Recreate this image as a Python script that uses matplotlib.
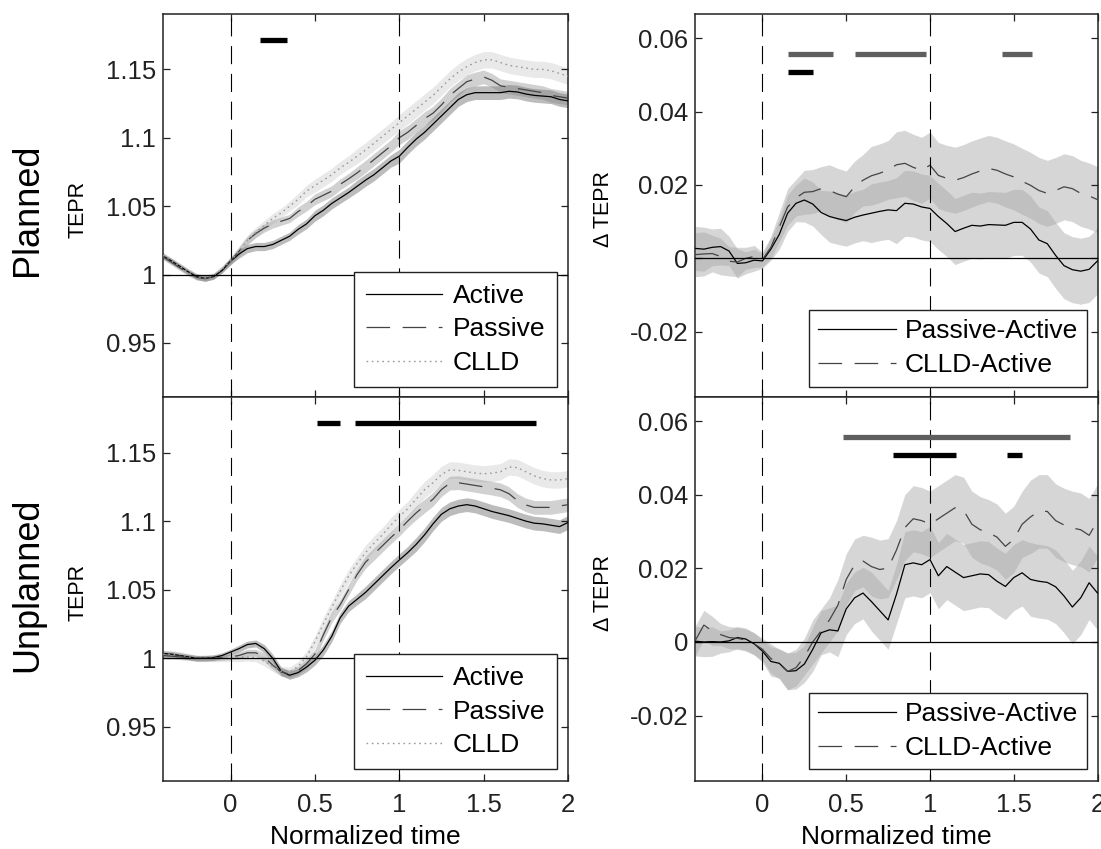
import matplotlib
matplotlib.use('Agg')
import matplotlib.pyplot as plt
import numpy as np

plt.rcParams['font.family'] = ['Liberation Sans', 'DejaVu Sans']
plt.rcParams['lines.scale_dashes'] = False

# ---------------- data ----------------
time = np.linspace(-0.4, 2.0, 49)   # normalized time grid (step 0.05)

planned_active = [1.0135, 1.010, 1.006, 1.002, 0.9985, 0.9972, 0.9985, 1.003,
                  1.0097, 1.015, 1.019, 1.0205, 1.0205, 1.022, 1.025, 1.028, 1.033,
                  1.037, 1.043, 1.047, 1.052, 1.056, 1.060, 1.0645, 1.069, 1.073,
                  1.078, 1.083, 1.0865, 1.093, 1.099, 1.104, 1.110, 1.116, 1.122,
                  1.128, 1.1315, 1.133, 1.133, 1.133, 1.133, 1.134, 1.1335, 1.132,
                  1.131, 1.1305, 1.130, 1.128, 1.127]
planned_passive = [1.013, 1.009, 1.005, 1.001, 0.998, 0.997, 0.999, 1.004,
                   1.010, 1.017, 1.025, 1.030, 1.034, 1.037, 1.039, 1.041, 1.046,
                   1.050, 1.055, 1.058, 1.061, 1.066, 1.070, 1.0743, 1.079, 1.084,
                   1.089, 1.094, 1.100, 1.104, 1.109, 1.114, 1.118, 1.124, 1.131,
                   1.136, 1.141, 1.143, 1.1445, 1.142, 1.138, 1.137, 1.136, 1.135,
                   1.134, 1.133, 1.131, 1.130, 1.129]
planned_clld = [1.014, 1.010, 1.006, 1.002, 0.9985, 0.9975, 0.999, 1.004,
                1.010, 1.017, 1.025, 1.031, 1.036, 1.041, 1.045, 1.050, 1.055,
                1.061, 1.065, 1.069, 1.073, 1.078, 1.082, 1.0865, 1.091, 1.096,
                1.101, 1.106, 1.111, 1.116, 1.121, 1.126, 1.131, 1.137, 1.143,
                1.148, 1.152, 1.155, 1.157, 1.157, 1.155, 1.153, 1.152, 1.151,
                1.150, 1.150, 1.149, 1.147, 1.145]
planned_sem = [0.002] * 8 + [0.0025, 0.003, 0.003, 0.003, 0.003, 0.003, 0.003, 0.003,
               0.0035, 0.0035, 0.004, 0.004, 0.004, 0.004, 0.004, 0.0045, 0.0045,
               0.0045, 0.0045, 0.0045, 0.005, 0.005, 0.005, 0.005, 0.005, 0.005,
               0.005, 0.005, 0.005, 0.005, 0.005, 0.005, 0.005, 0.005, 0.005,
               0.005, 0.005, 0.005, 0.005, 0.005, 0.005]

unplanned_active = [1.0035, 1.003, 1.002, 1.001, 1.000, 1.000, 1.0005, 1.002,
                    1.0045, 1.007, 1.010, 1.0108, 1.007, 1.000, 0.9905, 0.9876,
                    0.9895, 0.9935, 0.9985, 1.006, 1.016, 1.0295, 1.038, 1.043,
                    1.048, 1.054, 1.060, 1.066, 1.0716, 1.077, 1.083, 1.090, 1.098,
                    1.105, 1.109, 1.111, 1.112, 1.111, 1.109, 1.107, 1.1055, 1.104,
                    1.102, 1.100, 1.0985, 1.098, 1.097, 1.096, 1.099]
unplanned_passive = [1.002, 1.0015, 1.001, 1.0005, 1.000, 1.000, 1.000, 1.0005,
                     1.001, 1.002, 1.004, 1.004, 1.001, 0.995, 0.990, 0.9885,
                     0.991, 0.996, 1.003, 1.017, 1.030, 1.039, 1.050, 1.061,
                     1.070, 1.076, 1.082, 1.088, 1.0936, 1.100, 1.106, 1.111, 1.116,
                     1.123, 1.1277, 1.128, 1.127, 1.126, 1.125, 1.124, 1.1228, 1.120,
                     1.115, 1.1118, 1.110, 1.110, 1.110, 1.111, 1.112]
unplanned_clld = [1.003, 1.003, 1.0025, 1.001, 1.000, 1.000, 1.000, 1.000,
                  1.000, 1.0005, 1.001, 1.0005, 0.998, 0.994, 0.9905, 0.990,
                  0.994, 1.001, 1.012, 1.025, 1.037, 1.049, 1.060, 1.069,
                  1.077, 1.0838, 1.090, 1.097, 1.1033, 1.109, 1.116, 1.123, 1.128,
                  1.134, 1.1374, 1.137, 1.136, 1.135, 1.1345, 1.135, 1.136, 1.1395,
                  1.139, 1.136, 1.133, 1.131, 1.130, 1.130, 1.131]
unplanned_sem = [0.002] * 8 + [0.002, 0.0025, 0.0025, 0.0025, 0.003, 0.003, 0.003, 0.003,
                 0.003, 0.0035, 0.0035, 0.004, 0.004, 0.004, 0.004, 0.004, 0.0045,
                 0.0045, 0.0045, 0.0045, 0.0045, 0.0045, 0.005, 0.005, 0.005,
                 0.005, 0.005, 0.005, 0.005, 0.005, 0.005, 0.005, 0.005, 0.005,
                 0.005, 0.005, 0.005, 0.005, 0.005, 0.005, 0.005]

planned_pass_minus_act = [0.0027, 0.0025, 0.0030, 0.0032, 0.0020, -0.0014, -0.0012, -0.0005,
                          -0.0007, 0.0025, 0.0065, 0.0123, 0.0150, 0.0159, 0.0148, 0.0125,
                          0.0114, 0.0108, 0.0103, 0.0112, 0.0118, 0.0123, 0.0128, 0.0132,
                          0.0130, 0.0150, 0.0148, 0.0140, 0.0136, 0.0114, 0.0095, 0.0073,
                          0.0082, 0.0090, 0.0088, 0.0092, 0.0091, 0.0090, 0.0098, 0.0098,
                          0.0080, 0.0050, 0.0040, 0.0008, -0.0020, -0.0031, -0.0035,
                          -0.0030, -0.0007]
planned_clld_minus_act = [0.0010, 0.0012, 0.0013, 0.0005, -0.0008, -0.0010, 0.0000, 0.0005,
                          -0.0003, 0.0030, 0.0085, 0.0140, 0.0165, 0.0180, 0.0182, 0.0190,
                          0.0185, 0.0175, 0.0168, 0.0195, 0.0213, 0.0225, 0.0232, 0.0241,
                          0.0255, 0.0259, 0.0248, 0.0240, 0.0254, 0.0226, 0.0218, 0.0213,
                          0.0220, 0.0230, 0.0238, 0.0245, 0.0240, 0.0230, 0.0222, 0.0210,
                          0.0199, 0.0185, 0.0177, 0.0185, 0.0195, 0.0190, 0.0177, 0.0170,
                          0.0160]
planned_diff_sem = [0.006, 0.006, 0.005, 0.005, 0.004, 0.004, 0.003, 0.003,
                    0.002, 0.003, 0.004, 0.005, 0.005, 0.006, 0.006, 0.006, 0.007, 0.007,
                    0.007, 0.007, 0.007, 0.008, 0.008, 0.008, 0.009, 0.009, 0.009, 0.009,
                    0.009, 0.009, 0.009, 0.009, 0.009, 0.009, 0.009, 0.009, 0.009, 0.009,
                    0.009, 0.009, 0.009, 0.009, 0.009, 0.009, 0.009, 0.009, 0.009, 0.009,
                    0.009]

unplanned_pass_minus_act = [0.0002, 0.0000, 0.0001, 0.0000, 0.0003, 0.0012, 0.0008, -0.0005,
                            -0.0025, -0.0053, -0.0058, -0.0080, -0.0078, -0.0060, -0.0020,
                            0.0025, 0.0033, 0.0030, 0.0090, 0.0120, 0.0133, 0.0110, 0.0085,
                            0.0060, 0.0130, 0.0210, 0.0215, 0.0210, 0.0224, 0.0180, 0.0205,
                            0.0190, 0.0175, 0.0180, 0.0185, 0.0183, 0.0165, 0.0151, 0.0175,
                            0.0188, 0.0170, 0.0165, 0.0162, 0.0150, 0.0125, 0.0095, 0.0120,
                            0.0161, 0.0133]
unplanned_clld_minus_act = [0.0005, 0.0046, 0.0030, 0.0020, 0.0012, 0.0010, 0.0005, -0.0005,
                            -0.0020, -0.0045, -0.0060, -0.0080, -0.0070, -0.0040, 0.0000,
                            0.0030, 0.0060, 0.0100, 0.0170, 0.0210, 0.0220, 0.0205, 0.0197,
                            0.0201, 0.0250, 0.0311, 0.0335, 0.0330, 0.0320, 0.0335, 0.0350,
                            0.0365, 0.0358, 0.0320, 0.0305, 0.0297, 0.0285, 0.0260, 0.0279,
                            0.0320, 0.0340, 0.0355, 0.0355, 0.0330, 0.0318, 0.0310, 0.0305,
                            0.0290, 0.0329]
unplanned_diff_sem = [0.004, 0.004, 0.004, 0.003, 0.003, 0.003, 0.003, 0.003,
                      0.003, 0.004, 0.004, 0.005, 0.005, 0.005, 0.006, 0.006, 0.006, 0.007,
                      0.007, 0.007, 0.007, 0.008, 0.008, 0.008, 0.008, 0.009, 0.009, 0.009,
                      0.009, 0.009, 0.009, 0.009, 0.009, 0.009, 0.009, 0.009, 0.009, 0.009,
                      0.009, 0.009, 0.010, 0.010, 0.010, 0.010, 0.010, 0.010, 0.010, 0.010,
                      0.010]

# significance bars: (start, end)
planned_sig_black = [(0.176, 0.335)]
unplanned_sig_black = [(0.511, 0.647), (0.738, 1.808)]
planned_diff_sig_gray = [(0.151, 0.419), (0.552, 0.974), (1.427, 1.608)]
planned_diff_sig_black = [(0.151, 0.302)]
unplanned_diff_sig_gray = [(0.481, 1.835)]
unplanned_diff_sig_black = [(0.779, 1.153), (1.459, 1.550)]

left_labels = ['Active', 'Passive', 'CLLD']
right_labels = ['Passive-Active', 'CLLD-Active']
left_yticks = [0.95, 1, 1.05, 1.1, 1.15]
left_yticklabels = ['0.95', '1', '1.05', '1.1', '1.15']
right_yticks = [-0.02, 0, 0.02, 0.04, 0.06]
right_yticklabels = ['-0.02', '0', '0.02', '0.04', '0.06']
xticks = [0, 0.5, 1, 1.5, 2]
xticklabels = ['0', '0.5', '1', '1.5', '2']

# ---------------- figure ----------------
W, H = 1101, 849
fig = plt.figure(figsize=(W / 100, H / 100), dpi=100)

def ax_rect(x0, x1, y0, y1):
    return [x0 / W, 1 - y1 / H, (x1 - x0) / W, (y1 - y0) / H]

ax_tl = fig.add_axes(ax_rect(163, 568, 14, 397))
ax_bl = fig.add_axes(ax_rect(163, 568, 397, 781))
ax_tr = fig.add_axes(ax_rect(695.5, 1097.5, 14, 397))
ax_br = fig.add_axes(ax_rect(695.5, 1097.5, 397, 781))

TICK_FS = 18.5
LEG_FS = 19
VDASH = (0, (13, 7))
PDASH = (0, (17, 9))
CDOT = (0, (1.2, 2.6))


def style_axes(ax, ylim, yticks, yticklabels, show_x):
    ax.set_xlim(-0.4, 2.0)
    ax.set_ylim(*ylim)
    ax.set_xticks(xticks)
    ax.set_yticks(yticks)
    ax.set_yticklabels(yticklabels, fontsize=TICK_FS)
    if show_x:
        ax.set_xticklabels(xticklabels, fontsize=TICK_FS)
        ax.set_xlabel('Normalized time', fontsize=19, va='center')
        ax.xaxis.set_label_coords(0.5, -0.145)
    else:
        ax.set_xticklabels([])
    ax.tick_params(direction='in', top=True, right=True, length=5, width=0.9,
                   colors='#222222')
    ax.tick_params(axis='y', pad=5)
    ax.tick_params(axis='x', pad=9)
    for s in ax.spines.values():
        s.set_linewidth(1.1)
        s.set_color('#222222')
    ax.axvline(0, color='black', lw=0.8, ls=VDASH, zorder=4)
    ax.axvline(1, color='black', lw=0.8, ls=VDASH, zorder=4)


def sig(ax, spans, y, color):
    for a, b in spans:
        ax.plot([a, b], [y, y], color=color, lw=3.8, solid_capstyle='butt', zorder=5)


def left_panel(ax, act, pas, cll, sem, sig_spans, show_x):
    act, pas, cll, sem = map(np.asarray, (act, pas, cll, sem))
    ax.fill_between(time, cll - sem * 1.2, cll + sem * 1.2, color='#d4d4d4', alpha=0.5, lw=0)
    ax.fill_between(time, pas - sem, pas + sem, color='#a4a4a4', alpha=0.5, lw=0)
    ax.fill_between(time, act - sem, act + sem, color='#7a7a7a', alpha=0.5, lw=0)
    l1, = ax.plot(time, act, color='black', lw=0.9, zorder=3)
    l2, = ax.plot(time, pas, color='#444444', lw=0.9, ls=PDASH, zorder=3)
    l3, = ax.plot(time, cll, color='#9a9a9a', lw=1.0, ls=CDOT, zorder=3)
    ax.axhline(1, color='black', lw=0.9, zorder=3)
    sig(ax, sig_spans, 1.1716, 'black')
    style_axes(ax, (0.9105, 1.1905), left_yticks, left_yticklabels, show_x)
    leg = ax.legend([l1, l2, l3], left_labels, loc='lower right',
                    bbox_to_anchor=(0.973, 0.027 if not show_x else 0.031),
                    borderaxespad=0, fontsize=LEG_FS, handlelength=2.9,
                    handletextpad=0.4, labelspacing=0.36, borderpad=0.45,
                    fancybox=False, framealpha=1, edgecolor='#222222')
    leg.get_frame().set_linewidth(1.0)
    leg.set_zorder(10)
    ax.set_ylabel('TEPR', fontsize=15.5, va='center')
    ax.yaxis.set_label_coords(-0.209, 0.49)


def right_panel(ax, pa, ca, sem, gray_spans, black_spans, show_x):
    pa, ca, sem = map(np.asarray, (pa, ca, sem))
    ax.fill_between(time, ca - sem, ca + sem, color='#a6a6a6', alpha=0.45, lw=0)
    ax.fill_between(time, pa - sem, pa + sem, color='#a6a6a6', alpha=0.45, lw=0)
    l1, = ax.plot(time, pa, color='black', lw=0.9, zorder=3)
    l2, = ax.plot(time, ca, color='#444444', lw=0.9, ls=PDASH, zorder=3)
    ax.axhline(0, color='black', lw=0.9, zorder=3)
    sig(ax, gray_spans, 0.0557, '#5f5f5f')
    sig(ax, black_spans, 0.0508, 'black')
    style_axes(ax, (-0.0378, 0.0666), right_yticks, right_yticklabels, show_x)
    leg = ax.legend([l1, l2], right_labels, loc='lower right',
                    bbox_to_anchor=(0.975, 0.027 if not show_x else 0.031),
                    borderaxespad=0, fontsize=LEG_FS, handlelength=2.95,
                    handletextpad=0.35, labelspacing=0.38, borderpad=0.35,
                    fancybox=False, framealpha=1, edgecolor='#222222')
    leg.get_frame().set_linewidth(1.0)
    leg.set_zorder(10)
    ax.set_ylabel('\u0394 TEPR', fontsize=15.5, va='center')
    ax.yaxis.set_label_coords(-0.23, 0.49)


left_panel(ax_tl, planned_active, planned_passive, planned_clld, planned_sem,
           planned_sig_black, False)
left_panel(ax_bl, unplanned_active, unplanned_passive, unplanned_clld, unplanned_sem,
           unplanned_sig_black, True)
right_panel(ax_tr, planned_pass_minus_act, planned_clld_minus_act, planned_diff_sem,
            planned_diff_sig_gray, planned_diff_sig_black, False)
right_panel(ax_br, unplanned_pass_minus_act, unplanned_clld_minus_act, unplanned_diff_sem,
            unplanned_diff_sig_gray, unplanned_diff_sig_black, True)

fig.text(28 / W, 1 - 210 / H, 'Planned', rotation=90, fontsize=26,
         ha='center', va='center')
fig.text(28 / W, 1 - 585 / H, 'Unplanned', rotation=90, fontsize=26,
         ha='center', va='center')

fig.savefig('out.png', dpi=100, facecolor='white')
